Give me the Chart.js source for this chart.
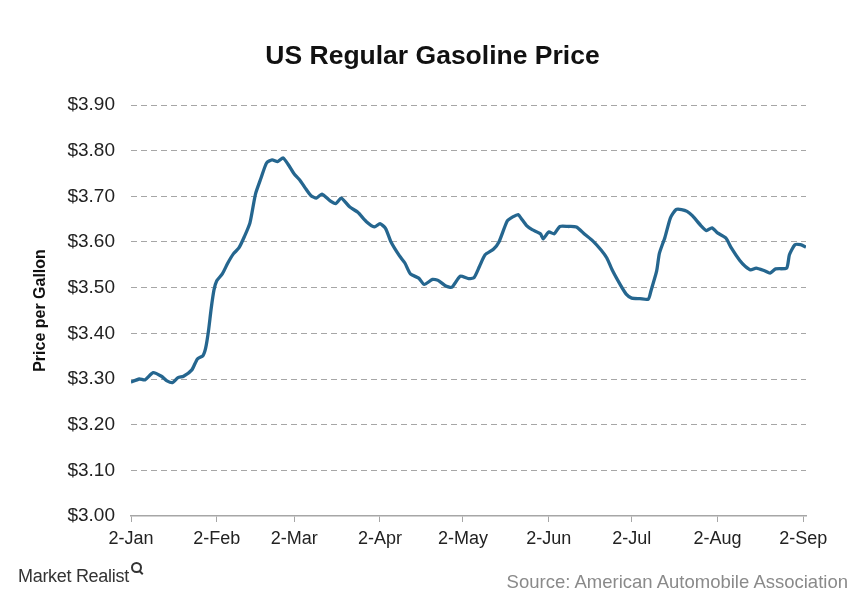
<!DOCTYPE html>
<html>
<head>
<meta charset="utf-8">
<script src="https://cdn.jsdelivr.net/npm/chart.js@4.4.1/dist/chart.umd.min.js"></script>
<style>
  html, body { margin: 0; padding: 0; background: #fff; }
  #wrap { position: relative; width: 859px; height: 600px; }
  #chart { position: absolute; left: 0; top: 0; }
  .title {
    position: absolute; left: 0; width: 865px; top: 40px; text-align: center;
    font-family: "Liberation Sans", Arial, sans-serif; font-size: 26.5px; font-weight: bold; color: #111;
  }
  .brand {
    position: absolute; left: 18px; top: 566px;
    font-family: "Liberation Sans", Arial, sans-serif; font-size: 18px; color: #333;
    letter-spacing: -0.3px;
  }
  .brand .glass {
    display: inline-block; position: relative; width: 7px; height: 7px;
    border: 2px solid #333; border-radius: 50%; top: -9px; margin-left: 2px;
  }
  .brand .glass:after {
    content: ""; position: absolute; width: 2px; height: 5px; background: #333;
    left: 7px; top: 6px; transform: rotate(-45deg);
  }
  .source {
    position: absolute; right: 11px; top: 571px;
    font-family: "Liberation Sans", Arial, sans-serif; font-size: 18.5px; color: #8a8a8a;
  }
</style>
</head>
<body>
<div id="wrap">
  <canvas id="chart" width="859" height="600"></canvas>
  <div class="title">US Regular Gasoline Price</div>
  <div class="brand">Market Realist<span class="glass"></span></div>
  <div class="source">Source: American Automobile Association</div>
</div>
<script>
// day offsets from 2-Jan
const days = [
  0, 3, 5, 8, 11, 13, 15, 17, 19, 22, 24, 26, 27, 28, 29, 30, 31, 33, 35, 37,
  39, 41, 43, 45, 47, 49, 51, 53, 55, 57, 59, 61, 63, 65, 67, 69, 72, 74, 76, 79,
  82, 85, 88, 90, 92, 94, 97, 99, 101, 104, 106, 109, 111, 114, 116, 119, 122, 124, 126, 128,
  131, 133, 136, 138, 140, 141, 143, 145, 148, 149, 151, 153, 155, 158, 161, 164, 167, 170, 172, 174,
  177, 179, 181, 184, 187, 188, 190, 191, 193, 195, 197, 199, 201, 203, 206, 208, 210, 212, 215, 217,
  220, 222, 224, 226, 229, 231, 233, 237, 238, 240, 242, 244
];

// price per gallon ($)
const prices = [
  3.293, 3.300, 3.298, 3.314, 3.306, 3.296, 3.292, 3.303, 3.306, 3.320, 3.344, 3.351, 3.368, 3.405, 3.455, 3.495, 3.515, 3.530, 3.554, 3.574,
  3.587, 3.612, 3.642, 3.705, 3.740, 3.773, 3.780, 3.776, 3.784, 3.768, 3.749, 3.736, 3.718, 3.702, 3.696, 3.705, 3.690, 3.684, 3.696, 3.677,
  3.665, 3.645, 3.633, 3.640, 3.630, 3.600, 3.570, 3.554, 3.530, 3.521, 3.507, 3.518, 3.516, 3.503, 3.501, 3.525, 3.520, 3.522, 3.547, 3.572,
  3.584, 3.600, 3.646, 3.655, 3.660, 3.652, 3.636, 3.627, 3.618, 3.607, 3.622, 3.618, 3.634, 3.634, 3.633, 3.617, 3.602, 3.582, 3.565, 3.538,
  3.505, 3.486, 3.477, 3.476, 3.475, 3.494, 3.536, 3.575, 3.610, 3.653, 3.671, 3.671, 3.667, 3.657, 3.636, 3.625, 3.631, 3.620, 3.609, 3.587,
  3.560, 3.547, 3.539, 3.543, 3.537, 3.532, 3.541, 3.543, 3.572, 3.594, 3.594, 3.589
];

const tickDays = [0, 31, 59, 90, 120, 151, 181, 212, 243];
const tickLabels = ["2-Jan", "2-Feb", "2-Mar", "2-Apr", "2-May", "2-Jun", "2-Jul", "2-Aug", "2-Sep"];

const font = "'Liberation Sans', Arial, sans-serif";

const ctx = document.getElementById("chart").getContext("2d");

const myChart = new Chart(ctx, {
  type: "line",
  data: {
    datasets: [
      {
        label: "US Regular Gasoline Price",
        data: days.map((d, i) => ({ x: d, y: prices[i] })),
        borderColor: "#25668f",
        borderWidth: 3.3,
        pointRadius: 0,
        tension: 0.2,
        fill: false,
      },
    ],
  },
  options: {
    responsive: false,
    animation: false,
    layout: { padding: { left: 0, right: 53, top: 105, bottom: 0 } },
    scales: {
      x: {
        type: "linear",
        min: 0,
        max: 244,
        afterBuildTicks: (scale) => {
          scale.ticks = tickDays.map((v) => ({ value: v }));
        },
        afterFit: (scale) => {
          scale.height = 84;
        },
        grid: {
          drawOnChartArea: false,
          drawTicks: true,
          tickLength: 6,
          color: "#a6a6a6",
        },
        border: { display: true, color: "#a6a6a6", width: 1.5 },
        ticks: {
          autoSkip: false,
          maxRotation: 0,
          padding: 6,
          color: "#222",
          font: { family: font, size: 18 },
          callback: (value) => tickLabels[tickDays.indexOf(value)],
        },
      },
      y: {
        min: 3.0,
        max: 3.9,
        afterFit: (scale) => {
          scale.width = 131;
        },
        grid: {
          drawTicks: false,
          color: (c) => (c.tick && c.tick.value <= 3.0001 ? "rgba(0,0,0,0)" : "#a6a6a6"),
          lineWidth: 1,
        },
        border: { display: false, dash: [6, 4] },
        ticks: {
          stepSize: 0.1,
          padding: 16,
          color: "#222",
          font: { family: font, size: 19 },
          callback: (value) => "$" + Number(value).toFixed(2),
        },
        title: {
          display: true,
          text: "Price per Gallon",
          color: "#111",
          font: { family: font, size: 16, weight: "bold" },
          padding: { top: 31, bottom: 0 },
        },
      },
    },
    plugins: {
      legend: { display: false },
      tooltip: { enabled: false },
      title: { display: false },
    },
  },
});
</script>
</body>
</html>
